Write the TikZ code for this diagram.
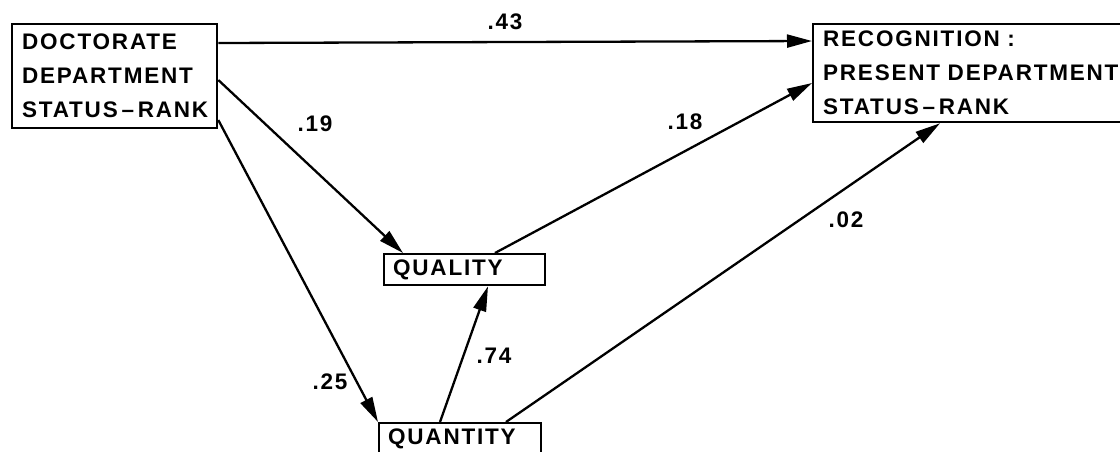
\documentclass[tikz,border=0pt]{standalone}
\usepackage{fontspec}
\newfontfamily\lblfont{Liberation Sans}[LetterSpace=8.0]
\newcommand{\lbl}{\lblfont\bfseries\fontsize{22.5}{34}\selectfont}
\newcommand{\rdash}{\,\textendash\,}
\usetikzlibrary{arrows.meta,calc,positioning}

\begin{document}
\begin{tikzpicture}[x=1pt,y=-1pt,line width=2.3pt,
  >={Triangle[length=25pt,width=13pt]},
  varbox/.style={draw,rectangle,anchor=north west,align=left,inner ysep=0pt,font=\lbl},
  coef/.style={font=\lbl}]
\useasboundingbox (0,0) rectangle (1120,451);
\clip (0,0) rectangle (1120,451);

% Variables
\node[varbox,minimum width=205,minimum height=104,inner xsep=10pt,text width=185] (doc) at (11,23)
  {\mbox{DOCTORATE}\\\mbox{DEPARTMENT}\\\mbox{STATUS\rdash RANK}};
\node[varbox,minimum width=340,minimum height=98,inner xsep=6pt,text width=320] (rec) at (812,23)
  {\mbox{RECOGNITION :}\\\mbox{PRESENT DEPARTMENT}\\\mbox{STATUS\rdash RANK}};
\node[varbox,minimum width=161,minimum height=31,inner xsep=9pt,text width=143] (qual) at (383,253) {QUALITY};
\node[varbox,minimum width=162,minimum height=31,inner xsep=9pt,text width=144] (quant) at (378,422) {QUANTITY};

% Paths
\draw[->] ([yshift=-20]doc.north east) -- ([yshift=-18]rec.north west);
\draw[->] ([yshift=-57]doc.north east) -- ([xshift=20]qual.north west);
\draw[->] ([yshift=-97]doc.north east) -- (quant.north west);
\draw[->] ([xshift=112]qual.north west) -- ([yshift=-60]rec.north west);
\draw[->] ([xshift=62]quant.north west) -- ([xshift=105]qual.south west);
\draw[->] ([xshift=128]quant.north west) -- ([xshift=128]rec.south west);

% Coefficients
\node[coef] (c43) at (505,22) {.43};
\node[coef] (c19) at (315,124) {.19};
\node[coef] (c25) at (330,382) {.25};
\node[coef] (c18) at (685,122) {.18};
\node[coef] (c74) at (494,356) {.74};
\node[coef] (c02) at (846,220) {.02};
\end{tikzpicture}
\end{document}
